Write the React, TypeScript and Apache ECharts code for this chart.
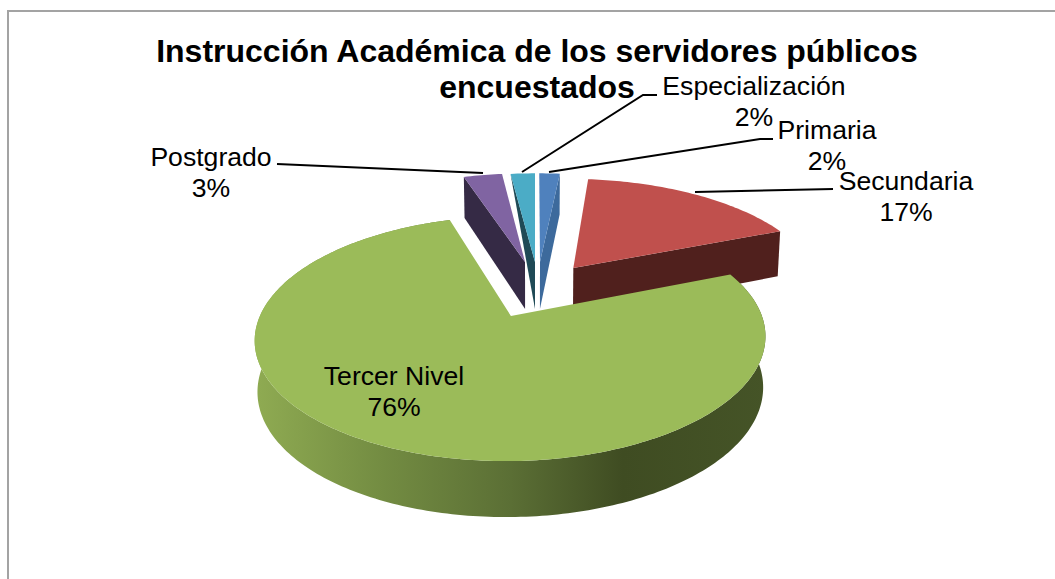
import React, { useEffect, useRef } from "react";
import * as echarts from "echarts";

const titleText = "Instrucción Académica de los servidores públicos\nencuestados";
const categories = ["Primaria", "Secundaria", "Tercer Nivel", "Postgrado", "Especialización"];
const shares = [1.6, 17.3, 76.2, 3.0, 1.9];

// Layout and style of each slice, in the order of categories.
const faceColors = ["#4F81BD", "#C0504D", "#9BBB59", "#8064A2", "#4BACC6"];
const wallColors = ["#3D6A9C", "#50201D", "#9BBB59", "#352A45", "#1F4A56"];
const explodeU = [0.0217, 0.165, -0.096, -0.0435, 0];
const explodeV = [0.498, 0.4378, 0, 0.498, 0.498];
const reach = [1.05, 1.035, 1, 1.05, 1.05];
const wallKind = ["end", "end", "outer", "start", "startTri"];
const labelX = [827, 906, 394, 211, 754];
const labelY = [145, 196, 391.5, 172, 101];
const leaders = [
  [[773, 139], [760, 139], [549, 172]],
  [[833, 189], [695, 192]],
  [],
  [[277, 164], [483, 173]],
  [[657, 95], [643, 95], [522, 172]],
];

const CX = 535;
const CY = 316;
const RX = 251;
const RY = 118.4;
const PERSP = 0.184;
const BOTTOM_SHRINK = 0.99;

const persp = (v: number) => 1 / (1 + PERSP * v);
const depthAt = (v: number) => 50 - 6 * v;
const project = (u: number, v: number) => [CX + RX * u * persp(v), CY - RY * v * persp(v)];
const projectLow = (u: number, v: number) => {
  const [x, y] = project(u, v);
  return [CX + (x - CX) * BOTTOM_SHRINK, y + depthAt(v)];
};

const total = shares.reduce((a, b) => a + b, 0);

function sliceElements(i: number) {
  const before = shares.slice(0, i).reduce((a, b) => a + b, 0);
  const a0 = (before / total) * Math.PI * 2;
  const a1 = ((before + shares[i]) / total) * Math.PI * 2;
  const ou = explodeU[i];
  const ov = explodeV[i];
  const rimU = (a: number) => ou + reach[i] * Math.sin(a);
  const rimV = (a: number) => ov + reach[i] * Math.cos(a);
  const steps = Math.max(2, Math.round(((a1 - a0) * 180) / Math.PI));
  const angles: number[] = [];
  for (let s = 0; s <= steps; s++) angles.push(a0 + ((a1 - a0) * s) / steps);
  const rimTop = angles.map((a) => project(rimU(a), rimV(a)));
  const rimLow = angles.map((a) => projectLow(rimU(a), rimV(a)));
  const apexTop = project(ou, ov);
  const apexLow = projectLow(ou, ov);
  const kind = wallKind[i];
  let wallPoints: number[][];
  let fill: any = wallColors[i];
  if (kind === "outer") {
    wallPoints = [...rimTop, ...rimLow.slice().reverse()];
    fill = new echarts.graphic.LinearGradient(
      255, 0, 766, 0,
      [
        { offset: 0, color: "#8FAB52" },
        { offset: 0.25, color: "#738C42" },
        { offset: 0.5, color: "#5B6F35" },
        { offset: 0.72, color: "#3F4C22" },
        { offset: 1, color: "#455427" },
      ],
      true
    );
  } else if (kind === "end") {
    wallPoints = [apexTop, rimTop[rimTop.length - 1], rimLow[rimLow.length - 1], apexLow];
  } else if (kind === "start") {
    wallPoints = [apexTop, rimTop[0], rimLow[0], apexLow];
  } else {
    wallPoints = [apexTop, rimTop[0], apexLow];
  }
  const z = kind === "outer" ? 20 : 10;
  return [
    { type: "polygon", z2: z, shape: { points: wallPoints }, style: { fill } },
    { type: "polygon", z2: z + 1, shape: { points: [apexTop, ...rimTop] }, style: { fill: faceColors[i] } },
    ...(leaders[i].length
      ? [
          {
            type: "polyline",
            z2: 40,
            shape: { points: leaders[i] },
            style: { stroke: "#000", lineWidth: 2, fill: "none" },
          },
        ]
      : []),
    {
      type: "text",
      z2: 50,
      style: {
        text: `${categories[i]}\n${Math.round(shares[i])}%`,
        x: labelX[i],
        y: labelY[i],
        align: "center",
        verticalAlign: "middle",
        textAlign: "center",
        textVerticalAlign: "middle",
        font: '26.6px "Liberation Sans"',
        lineHeight: 31,
        fill: "#000",
      },
    },
  ];
}

export default function App() {
  const ref = useRef<HTMLDivElement>(null);
  useEffect(() => {
    document.body.style.margin = "0";
    const chart = echarts.init(ref.current!, undefined, { renderer: "svg" });
    chart.setOption({
      animation: false,
      backgroundColor: "#fff",
      title: {
        text: titleText,
        left: 532,
        top: 28,
        textAlign: "center",
        textStyle: {
          fontFamily: "Liberation Sans",
          fontSize: 32,
          fontWeight: "bold",
          color: "#000",
          lineHeight: 36,
        },
      },
      graphic: [
        {
          type: "polyline",
          silent: true,
          shape: { points: [[8, 579], [8, 11], [1055, 11]] },
          style: { stroke: "#A3A3A3", lineWidth: 2, fill: "none" },
        },
      ],
      series: [
        {
          type: "custom",
          coordinateSystem: "none",
          silent: true,
          data: categories.map((name, i) => ({ name, value: shares[i] })),
          renderItem: (params: any) => ({
            type: "group",
            children: sliceElements(params.dataIndex),
          }),
        },
      ],
    });
    return () => chart.dispose();
  }, []);
  return <div ref={ref} style={{ position: "absolute", left: 0, top: 0, width: 1055, height: 579 }} />;
}
